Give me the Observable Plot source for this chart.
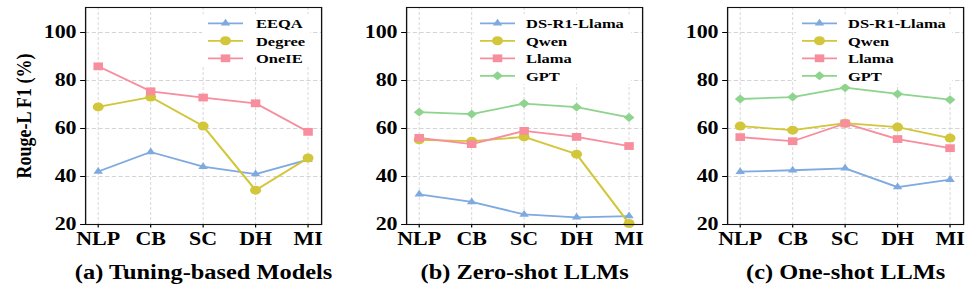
<!DOCTYPE html>
<html><head><meta charset="utf-8">
<script src="https://cdn.jsdelivr.net/npm/d3@7"></script>
<script src="https://cdn.jsdelivr.net/npm/@observablehq/plot@0.6"></script>
<style>
body{margin:0;background:#fff;}
#chart{position:relative;width:977px;height:291px;overflow:hidden;background:#fff;}
#chart svg{position:absolute;top:0;}
</style></head><body><div id="chart"></div>
<script>
// ---- data ----
const categories = ["NLP", "CB", "SC", "DH", "MI"];
const yTicks = [20, 40, 60, 80, 100];
const panelTitles = ["(a) Tuning-based Models", "(b) Zero-shot LLMs", "(c) One-shot LLMs"];
const yLabel = "Rouge-L F1 (%)";

const tuningNames = ["EEQA", "Degree", "OneIE"];
const llmNames = ["DS-R1-Llama", "Qwen", "Llama", "GPT"];

// (a) Tuning-based Models
const eeqa   = [42.1, 50.2, 44.1, 41.0, 47.0];
const degree = [69.0, 73.1, 61.0, 34.3, 47.7];
const oneie  = [85.9, 75.5, 72.9, 70.5, 58.6];
// (b) Zero-shot LLMs
const zsDS    = [32.6, 29.4, 24.2, 23.0, 23.5];
const zsQwen  = [55.3, 54.7, 56.5, 49.3, 20.4];
const zsLlama = [56.1, 53.5, 59.0, 56.5, 52.7];
const zsGPT   = [66.8, 66.0, 70.4, 68.9, 64.6];
// (c) One-shot LLMs
const osDS    = [42.0, 42.6, 43.4, 35.6, 38.7];
const osQwen  = [61.0, 59.3, 62.2, 60.6, 56.0];
const osLlama = [56.4, 54.7, 62.1, 55.6, 51.8];
const osGPT   = [72.3, 73.1, 77.0, 74.4, 72.0];

// ---- styles ----
const styles = [
  {color: "#7eaadf", symbol: "triangle", r: 2.9},
  {color: "#d2c63a", symbol: "circle", r: 4.5},
  {color: "#f78d9d", symbol: "square", r: 4.4},
  {color: "#8ed48e", symbol: "diamond2", r: 4.0}
];
const symbolTypes = {triangle: d3.symbolTriangle, circle: d3.symbolCircle, square: d3.symbolSquare, diamond2: d3.symbolDiamond2};

const panels = [
  {title: panelTitles[0], names: tuningNames, values: [eeqa, degree, oneie], legend: {l1: 123, l2: 158, tx: 171}, yLabel: true},
  {title: panelTitles[1], names: llmNames, values: [zsDS, zsQwen, zsLlama, zsGPT], legend: {l1: 74, l2: 109, tx: 120}, yLabel: false},
  {title: panelTitles[2], names: llmNames, values: [osDS, osQwen, osLlama, osGPT], legend: {l1: 75, l2: 110, tx: 121}, yLabel: false}
];

const S = 1.22;          // horizontal stretch of the original figure
const H = 291;
const WST = 335;         // stretched width of each panel svg
const OFFSETS = [0, 321, 642];
const FONT = "'Liberation Serif', 'Times New Roman', serif";

function legendMark(names, pos) {
  return (index, scales, values, dims) => {
    const g = d3.create("svg:g");
    const x0 = dims.marginLeft;
    const rowY0 = 23.3, rowDy = 17.5;
    const n = names.length;
    g.append("rect")
      .attr("x", x0 + (pos.l1 - 6) / S)
      .attr("y", rowY0 - 9)
      .attr("width", (225 - pos.l1 + 6) / S)
      .attr("height", (n - 1) * rowDy + 17)
      .attr("fill", "white");
    names.forEach((name, k) => {
      const st = styles[k];
      const cy = rowY0 + k * rowDy;
      g.append("line")
        .attr("x1", x0 + pos.l1 / S).attr("x2", x0 + pos.l2 / S)
        .attr("y1", cy).attr("y2", cy)
        .attr("stroke", st.color).attr("stroke-width", 1.8);
      g.append("path")
        .attr("d", d3.symbol(symbolTypes[st.symbol], Math.PI * st.r * st.r)())
        .attr("transform", `translate(${x0 + (pos.l1 + pos.l2) / 2 / S},${cy})`)
        .attr("fill", st.color);
      g.append("text")
        .attr("x", x0 + pos.tx / S).attr("y", cy).attr("dy", "0.35em")
        .attr("text-anchor", "start")
        .attr("font-family", FONT).attr("font-weight", "bold").attr("font-size", 13.5)
        .attr("fill", "#000")
        .text(name);
    });
    return g.node();
  };
}

const chart = document.getElementById("chart");
panels.forEach((p, i) => {
  const series = p.names.map((name, k) => ({
    name, style: styles[k],
    rows: categories.map((c, j) => ({cat: c, value: p.values[k][j], series: name}))
  }));
  const marks = [
    Plot.gridX(categories, {stroke: "#d4d4d4", strokeOpacity: 1, strokeDasharray: "3,2", strokeWidth: 0.8}),
    Plot.gridY(yTicks, {stroke: "#d4d4d4", strokeOpacity: 1, strokeDasharray: "3.5,2", strokeWidth: 0.9}),
    Plot.axisX({tickSize: 3.5, tickPadding: 4, fontSize: 18, fontWeight: "bold", label: null, stroke: "#000"}),
    Plot.axisY({ticks: yTicks, tickSize: 4, tickPadding: 3.4, fontSize: 18, fontWeight: "bold", label: null, stroke: "#000"}),
    ...series.map(s => Plot.line(s.rows, {x: "cat", y: "value", stroke: s.style.color, strokeWidth: 1.8})),
    ...series.map(s => Plot.dot(s.rows, {x: "cat", y: "value", symbol: s.style.symbol, r: s.style.r, fill: s.style.color, stroke: "none"})),
    Plot.frame({stroke: "#111", strokeWidth: 1.1}),
    legendMark(p.names, p.legend),
    Plot.text([p.title], {frameAnchor: "bottom", dy: 54, fontSize: 20, fontWeight: "bold", fill: "#000"})
  ];
  if (p.yLabel) {
    marks.push(Plot.text([yLabel], {frameAnchor: "left", textAnchor: "middle", dx: -(85 - 23) / S, rotate: -90, fontSize: 18, fontWeight: "bold", fill: "#000"}));
  }
  const svg = Plot.plot({
    width: WST / S,
    height: H,
    marginLeft: 85 / S,
    marginRight: 14 / S,
    marginTop: 7,
    marginBottom: 67,
    x: {type: "point", domain: categories, padding: 0.2},
    y: {domain: [20, 110.42]},
    style: {fontFamily: FONT, fontWeight: "bold", color: "#000", background: "transparent", overflow: "visible"},
    marks
  });
  svg.setAttribute("preserveAspectRatio", "none");
  svg.setAttribute("width", WST);
  svg.setAttribute("height", H);
  svg.style.width = WST + "px";
  svg.style.height = H + "px";
  svg.style.maxWidth = "none";
  svg.style.left = OFFSETS[i] + "px";
  chart.appendChild(svg);
});
</script>
</body></html>
